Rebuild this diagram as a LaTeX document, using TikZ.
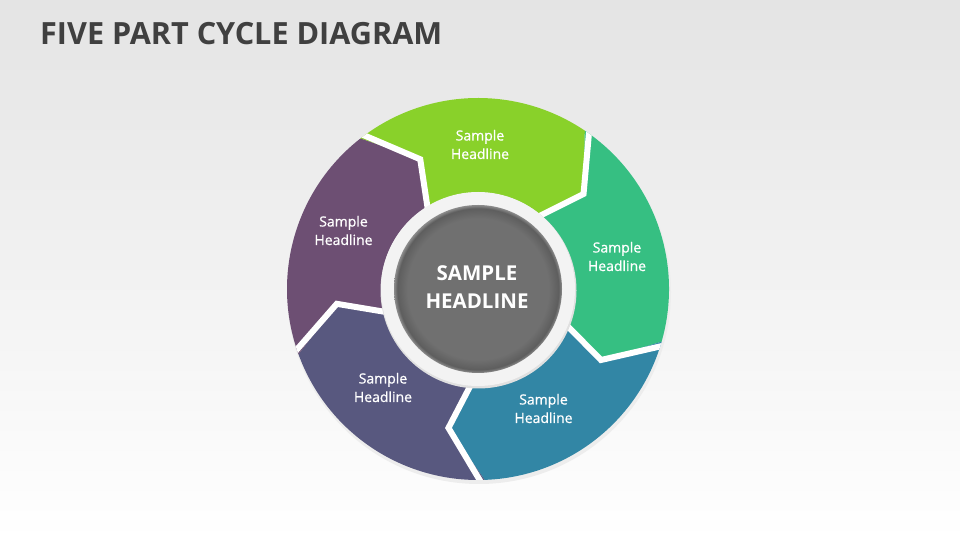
\documentclass[tikz,border=0pt]{standalone}
\usepackage{fontspec}
\setmainfont{Open Sans}
\newfontfamily\segfont[FakeBold=0.8]{Open Sans}
\definecolor{cA}{HTML}{89D12A}
\definecolor{cB}{HTML}{36BF82}
\definecolor{cC}{HTML}{3286A5}
\definecolor{cD}{HTML}{58587F}
\definecolor{cE}{HTML}{6D4F73}
\definecolor{bgtop}{HTML}{E4E4E4}
\definecolor{titlec}{HTML}{404040}
\definecolor{ringc}{HTML}{F3F3F3}
\definecolor{cg}{HTML}{707070}
\definecolor{cgd}{HTML}{5E5E5E}
\pgfdeclareradialshading{ballg}{\pgfpoint{0bp}{0bp}}{color(0bp)=(cg); color(21bp)=(cg); color(24bp)=(cgd); color(25bp)=(cg!80!white); color(50bp)=(cg!80!white)}
\begin{document}
\begin{tikzpicture}[x=1pt,y=1pt,
  titletext/.style={text=titlec, font=\fontsize{30.6}{36}\selectfont\bfseries, inner sep=0pt},
  seglabel/.style={text=white, align=center, inner sep=0pt, font=\fontsize{14}{18.5}\selectfont\segfont},
  hubtext/.style={text=white, align=center, inner sep=0pt, font=\fontsize{20.5}{28.5}\selectfont\bfseries}]
\useasboundingbox (0,0) rectangle (960,540);
\shade[top color=bgtop, bottom color=white] (0,0) rectangle (960,540);
\node[titletext, anchor=base west] (title) at (40,495) {FIVE PART CYCLE DIAGRAM};
\begin{scope}[shift={(478,251)}]
  \fill[black!7] (1,-3) circle (192);
  \foreach \k/\c in {0/cA,1/cB,2/cC,3/cD,4/cE}{
    \pgfmathsetmacro\t{126-72*\k}
    \pgfmathsetmacro\h{54-72*\k}
    \fill[\c] ({\t+2}:191) arc[start angle=\t+2, end angle=\h+2, radius=191]
      -- ({\h-12}:142) -- ({\h-2}:92)
      arc[start angle=\h-2, end angle=\t-2, radius=92]
      -- ({\t-12}:142) -- cycle;
  }
  \begin{scope}
    \clip (0,0) circle (191);
    \foreach \k in {0,...,4}{
      \pgfmathsetmacro\b{54-72*\k}
      \draw[white, line width=6, line join=miter] ({\b+2}:200) -- ({\b-12}:142) -- ({\b-2}:88);
    }
  \end{scope}
  \fill[black!12] (0.5,-1.5) circle (98);
  \fill[ringc] (0,0) circle (97);
  \shade[shading=ballg] (0,0) circle (84);
  \node[hubtext] (hub) at (-1,2) {SAMPLE\\HEADLINE};
\end{scope}
\node[seglabel] (s1) at (480,395.5) {Sample\\Headline};
\node[seglabel] (s2) at (617,283.5) {Sample\\Headline};
\node[seglabel] (s3) at (543.5,131.5) {Sample\\Headline};
\node[seglabel] (s4) at (383,152.5) {Sample\\Headline};
\node[seglabel] (s5) at (343.5,309.5) {Sample\\Headline};
\end{tikzpicture}
\end{document}
